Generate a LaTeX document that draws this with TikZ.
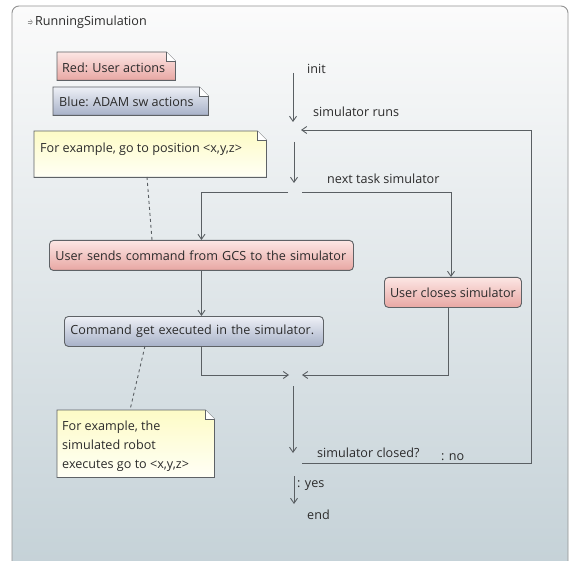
\documentclass[tikz,border=0pt]{standalone}
\usepackage{fontspec}
\setmainfont{Open Sans}
\usetikzlibrary{arrows.meta,calc}
\definecolor{linec}{HTML}{5A5F63}
\definecolor{boxline}{HTML}{5E6266}
\definecolor{pinktop}{HTML}{FCE6E4}
\definecolor{pinkbot}{HTML}{E8A7A3}
\definecolor{bluetop}{HTML}{EEF0F6}
\definecolor{bluebot}{HTML}{A7B1C8}
\definecolor{yeltop}{HTML}{FDFBC6}
\definecolor{yelbot}{HTML}{FFFFF6}
\definecolor{bgtop}{HTML}{FBFBFB}
\definecolor{bgbot}{HTML}{C4D1D7}
\definecolor{textc}{HTML}{2B2B2B}
\tikzset{
  x=1pt, y=-1pt,
  every node/.style={font=\fontsize{12.6}{14}\selectfont, text=textc},
  flow/.style={draw=linec, line width=0.9pt},
  arr/.style={flow, -{Straight Barb[length=5pt,width=7pt]}},
  notelink/.style={draw=linec, line width=0.9pt, dash pattern=on 3pt off 3pt},
  action/.style={draw=boxline, line width=0.9pt, rounded corners=4pt,
    anchor=north west, minimum height=30pt, inner xsep=6pt, inner ysep=0pt, align=left},
  useract/.style={action, top color=pinktop, bottom color=pinkbot},
  swact/.style={action, top color=bluetop, bottom color=bluebot},
  lbl/.style={anchor=base west, inner sep=0pt},
  notebox/.style={anchor=north west, inner sep=0pt},
}
% note outline with a folded top-right corner around node #1
\newcommand{\notepaper}[3]{%
  \shade[top color=#2, bottom color=#3, draw=boxline, line width=0.8pt]
    (#1.north west) -- ([xshift=-9pt]#1.north east) -- ([yshift=-9pt]#1.north east)
    -- (#1.south east) -- (#1.south west) -- cycle;
  \draw[boxline, line width=0.8pt, fill=white]
    ([xshift=-9pt]#1.north east) -- ([xshift=-9pt,yshift=-9pt]#1.north east)
    -- ([yshift=-9pt]#1.north east);
}
\begin{document}
\begin{tikzpicture}
\useasboundingbox (0,0) rectangle (570,561);
\fill[white] (0,0) rectangle (570,561);
% activity frame
\shade[top color=bgtop, bottom color=bgbot, draw=gray!85, line width=0.9pt, rounded corners=7pt]
  (12,6) rectangle (568,575);
\node[lbl] (title) at (35,26) {RunningSimulation};
\draw[gray!80, line width=0.5pt] (27.5,21) -- (31.5,21) (27.5,23) -- (31.5,23);
\draw[gray!80, line width=0.5pt] (30.5,19.5) -- (32.5,22) -- (30.5,24.5);

% legend notes
\node[notebox, minimum width=118pt, minimum height=28pt] (red) at (57,52) {};
\notepaper{red}{pinktop}{pinkbot}
\node[lbl] at (62,73) {Red: User actions};
\node[notebox, minimum width=155pt, minimum height=28pt] (blue) at (53,87) {};
\notepaper{blue}{bluetop}{bluebot}
\node[lbl] at (59,107) {Blue: ADAM sw actions};

% comment notes
\node[notebox, minimum width=232pt, minimum height=46pt] (noteA) at (34,131) {};
\notepaper{noteA}{yeltop}{yelbot}
\node[lbl] at (40,153) {For example, go to position <x,y,z>};
\node[notebox, minimum width=157pt, minimum height=67pt] (noteB) at (57,410) {};
\notepaper{noteB}{yeltop}{yelbot}
\node[lbl] at (62,430) {For example, the};
\node[lbl] at (62,449) {simulated robot};
\node[lbl] at (62,468) {executes go to <x,y,z>};

% actions
\node[useract, text width=292pt] (send) at (49,240) {User sends command from GCS to the simulator};
\node[swact, text width=247pt] (exec) at (64,316) {Command get executed in the simulator.};
\node[useract, inner xsep=4pt, minimum width=137pt] (close) at (384,277) {User closes simulator};

% control points
\coordinate (initTop) at (293,73);
\coordinate (runsIn) at (293,122);
\coordinate (runsOut) at (294,142);
\coordinate (runsR) at (301,130);
\coordinate (forkIn) at (294,183);
\coordinate (forkL) at (288,192);
\coordinate (forkR) at (302,192);
\coordinate (mergeL) at (289,375);
\coordinate (mergeR) at (302,375);
\coordinate (mergeOut) at (293,386);
\coordinate (decIn) at (293,453);
\coordinate (decR) at (302,463);
\coordinate (loopR) at (531,463);
\coordinate (endTop) at (294,476);
\coordinate (endBot) at (294,504);

% flow labels
\node[lbl] (lInit) at (307,74) {init};
\node[lbl] (lRuns) at (313,117) {simulator runs};
\node[lbl] (lNext) at (327,184) {next task simulator};
\node[lbl] (lClosed) at (317,457) {simulator closed?};
\node[lbl] (lNo) at (441,460) {: no};
\node[lbl] (lYes) at (297,487) {: yes};
\node[lbl] (lEnd) at (307,519) {end};

% flow edges
\draw[arr] (initTop) -- (runsIn);
\draw[arr] (runsOut) -- (forkIn);
\draw[arr] (forkL) -| (send.north);
\draw[arr] (forkR) -| (451,277);
\draw[arr] (send.south) -- (send.south |- exec.north);
\draw[arr] (send.south |- exec.south) |- (mergeL);
\draw[arr] (448,307) |- (mergeR);
\draw[arr] (mergeOut) -- (decIn);
\draw[arr] (decR) -- (loopR) |- (runsR);
\draw[arr] (endTop) -- (endBot);

% note anchors
\draw[notelink] (147,177) -- (152,240);
\draw[notelink] (145,346) -- (130,410);
\end{tikzpicture}
\end{document}
